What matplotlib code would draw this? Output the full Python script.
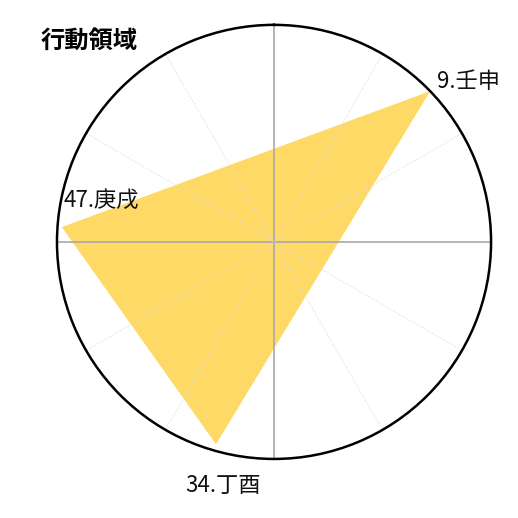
import numpy as np
import matplotlib.pyplot as plt

plt.rcParams['font.family'] = ['Noto Sans CJK JP', 'DejaVu Sans']

# 干支番号と名前, 値
numbers = [9, 47, 34]
names = ['壬申', '庚戌', '丁酉']
values = [100, 98, 97]
r_max = 100
title = '行動領域'

fig = plt.figure(figsize=(5.18, 5.18), dpi=100)
ax = fig.add_axes([0.110, 0.114, 0.838, 0.838], projection='polar')
ax.set_theta_zero_location('N')
ax.set_theta_direction(-1)
ax.set_ylim(0, r_max)

theta = np.deg2rad([(n - 1) * 6 - 2 for n in numbers])
ax.fill(np.append(theta, theta[0]), values + values[:1],
        color='#FED966', lw=0, zorder=1)

# 放射状のグリッド線
for a in range(0, 360, 30):
    t = np.deg2rad(a)
    if a % 90 == 0:
        ax.plot([t, t], [0, r_max], color='#a8a8a8', lw=1.2, zorder=2)
    else:
        ax.plot([t, t], [0, r_max], color='#dadada', lw=0.8, ls=':', zorder=2)

ax.grid(False)
ax.set_xticks([])
ax.set_yticks([])
ax.spines['polar'].set_color('black')
ax.spines['polar'].set_linewidth(1.8)

# ラベル
offsets = [(5, 7, 'left'), (1, 19, 'left'), (5, -30, 'center')]
for n, name, t, v, (dx, dy, ha) in zip(numbers, names, theta, values, offsets):
    ax.annotate('%d.%s' % (n, name), xy=(t, v), xytext=(dx, dy),
                textcoords='offset points', ha=ha, va='center',
                fontsize=16, color='#111111', annotation_clip=False)

fig.text(41 / 518, 1 - 41 / 518, title, fontsize=17.5, fontweight='bold',
         ha='left', va='center')

fig.savefig('out.png', dpi=100)
